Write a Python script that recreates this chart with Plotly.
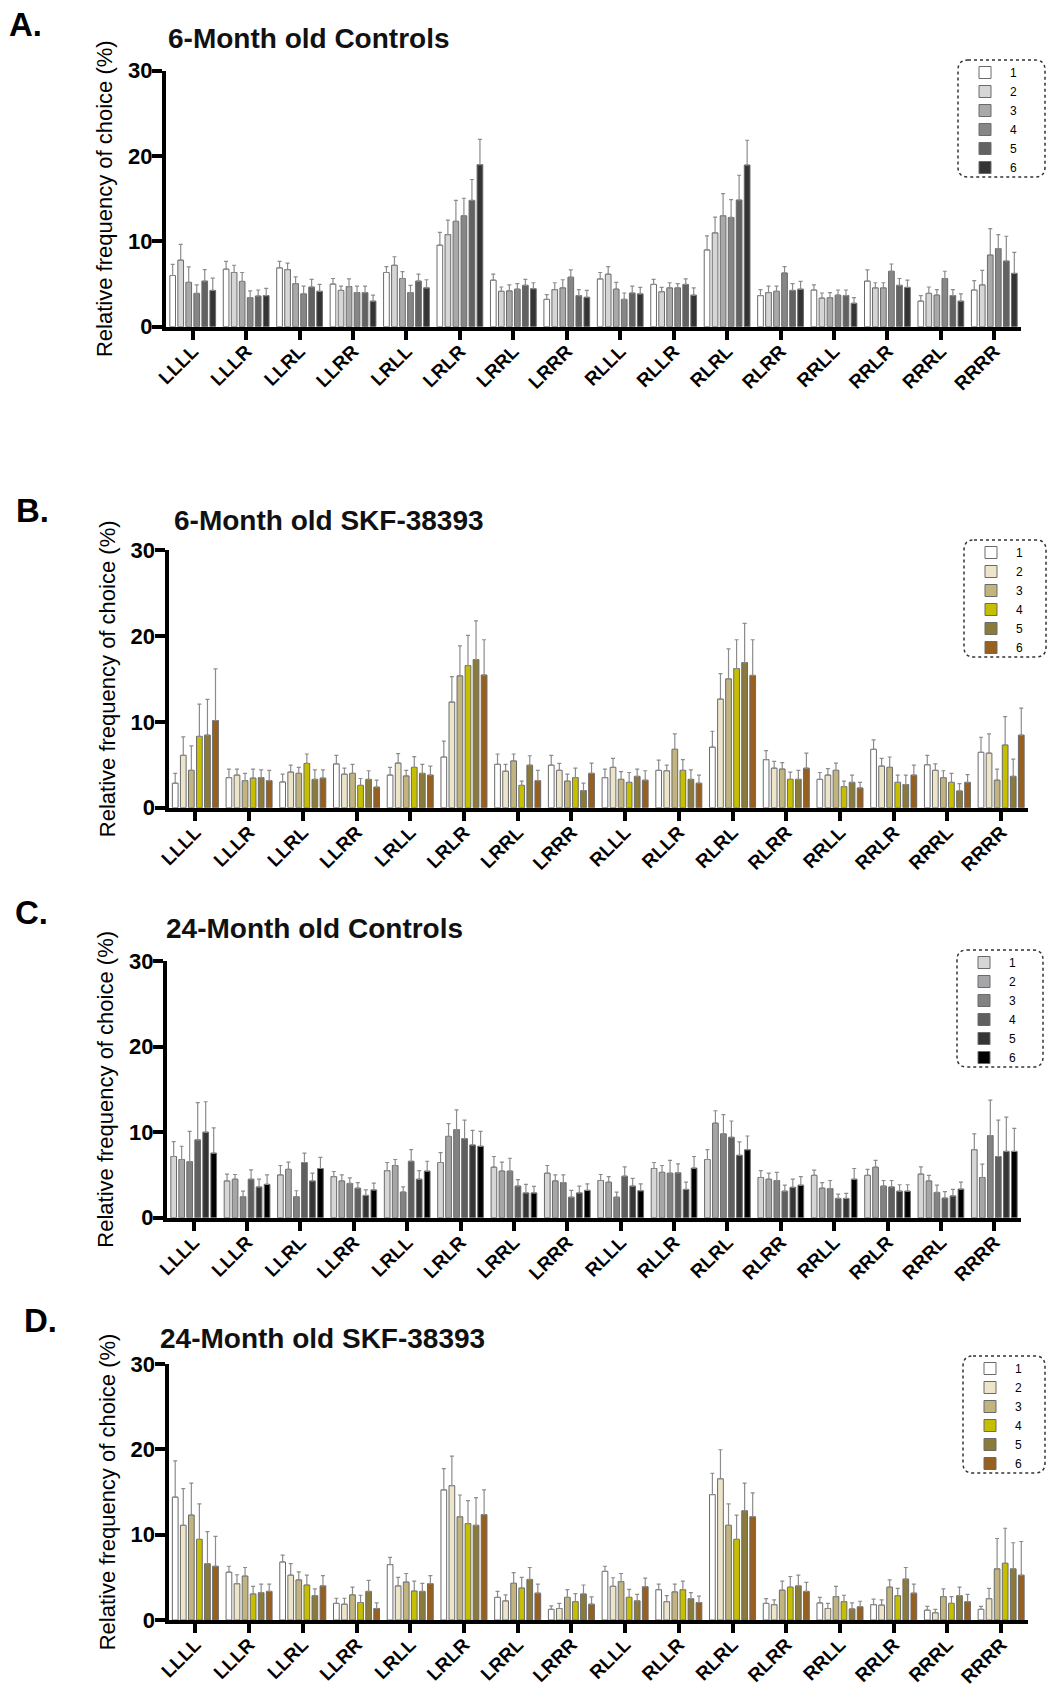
import plotly.graph_objects as go

W, H = 1047, 1693

CATS = ["LLLL", "LLLR", "LLRL", "LLRR", "LRLL", "LRLR", "LRRL", "LRRR",
        "RLLL", "RLLR", "RLRL", "RLRR", "RRLL", "RRLR", "RRRL", "RRRR"]
SERIES = ["1", "2", "3", "4", "5", "6"]
Y_TICKS = [0, 10, 20, 30]

TITLES = ["6-Month old Controls", "6-Month old SKF-38393",
          "24-Month old Controls", "24-Month old SKF-38393"]
LETTERS = ["A.", "B.", "C.", "D."]

# ---- Panel A: 6-Month old Controls (mean, SEM) ----
A_MEAN = [
    [6.0, 6.75, 6.9, 5.0, 6.35, 9.55, 5.45, 3.2, 5.6, 4.95, 9.0, 3.65, 4.3, 5.35, 3.0, 4.3],
    [7.8, 6.35, 6.7, 4.25, 7.2, 10.8, 4.15, 4.35, 6.15, 4.1, 11.0, 4.0, 3.35, 4.55, 3.9, 4.9],
    [5.2, 5.3, 5.05, 4.7, 5.65, 12.35, 4.2, 4.55, 4.4, 4.55, 13.0, 4.15, 3.4, 4.55, 3.7, 8.4],
    [3.9, 3.4, 3.85, 4.0, 4.0, 13.0, 4.4, 5.8, 3.2, 4.55, 12.8, 6.3, 3.7, 6.5, 5.65, 9.15],
    [5.35, 3.6, 4.65, 4.0, 5.35, 14.8, 4.85, 3.65, 3.95, 4.95, 14.85, 4.25, 3.65, 4.85, 3.65, 7.7],
    [4.25, 3.65, 4.15, 3.0, 4.55, 19.0, 4.45, 3.45, 3.85, 3.7, 18.95, 4.4, 2.75, 4.6, 3.0, 6.25],
]
A_ERR = [
    [1.3, 0.9, 0.75, 0.65, 0.7, 1.5, 0.7, 0.55, 0.75, 0.6, 1.65, 0.7, 0.6, 1.3, 0.65, 1.1],
    [1.85, 0.85, 0.75, 0.5, 1.0, 1.7, 0.5, 0.8, 0.9, 0.5, 1.85, 0.75, 0.6, 0.6, 0.75, 1.7],
    [1.8, 1.05, 0.8, 0.9, 0.8, 2.45, 0.7, 0.95, 0.8, 0.6, 2.6, 0.6, 0.6, 0.6, 0.65, 3.1],
    [1.0, 0.8, 0.9, 0.75, 0.85, 2.05, 0.65, 0.85, 0.75, 0.5, 2.1, 0.75, 0.6, 0.85, 0.85, 1.65],
    [1.35, 0.7, 0.9, 0.75, 0.8, 2.45, 0.7, 0.7, 0.8, 0.65, 2.9, 0.8, 0.65, 0.8, 0.7, 2.9],
    [1.45, 0.85, 0.8, 0.7, 0.95, 2.95, 0.7, 0.8, 0.75, 0.85, 2.9, 0.9, 0.65, 0.85, 0.85, 2.45],
]

# ---- Panel B: 6-Month old SKF-38393 ----
B_MEAN = [
    [2.85, 3.5, 3.0, 5.1, 3.8, 5.9, 5.05, 4.95, 3.5, 4.35, 7.05, 5.6, 3.3, 6.8, 5.0, 6.45],
    [6.1, 3.8, 4.15, 3.9, 5.2, 12.3, 4.25, 4.35, 4.7, 4.3, 12.65, 4.6, 3.8, 4.85, 4.35, 6.35],
    [4.35, 3.15, 4.0, 4.0, 3.7, 15.35, 5.45, 3.1, 3.3, 6.8, 15.0, 4.5, 4.35, 4.7, 3.5, 3.2],
    [8.3, 3.45, 5.15, 2.6, 4.7, 16.55, 2.6, 3.5, 2.95, 4.35, 16.2, 3.3, 2.45, 2.95, 2.95, 7.3],
    [8.45, 3.5, 3.3, 3.3, 4.0, 17.25, 4.95, 2.0, 3.65, 3.3, 16.9, 3.3, 2.95, 2.7, 1.95, 3.65],
    [10.15, 3.15, 3.45, 2.4, 3.8, 15.45, 3.15, 4.0, 3.2, 2.85, 15.4, 4.6, 2.3, 3.8, 2.95, 8.45],
]
B_ERR = [
    [1.15, 1.0, 0.9, 1.0, 0.9, 1.85, 1.2, 1.15, 1.0, 1.2, 1.85, 1.05, 0.8, 1.1, 1.1, 1.75],
    [2.15, 0.7, 0.8, 0.7, 1.1, 2.95, 0.8, 0.8, 1.05, 0.65, 2.95, 0.8, 0.75, 0.9, 0.75, 2.25],
    [2.85, 0.85, 0.7, 1.05, 0.65, 3.5, 0.8, 0.8, 0.9, 1.8, 3.5, 0.75, 0.85, 1.2, 0.8, 1.3],
    [3.75, 1.05, 1.1, 0.8, 1.25, 3.5, 0.5, 1.1, 1.15, 1.25, 3.35, 0.85, 0.65, 0.85, 1.05, 3.3],
    [4.15, 0.9, 1.1, 1.0, 1.05, 4.5, 1.1, 0.85, 0.85, 1.1, 4.55, 1.05, 0.85, 1.1, 0.85, 2.0],
    [6.0, 1.2, 0.95, 0.8, 1.05, 4.1, 1.2, 1.2, 1.1, 0.95, 4.15, 1.75, 0.65, 1.15, 0.9, 3.15],
]

# ---- Panel C: 24-Month old Controls ----
C_MEAN = [
    [7.15, 4.3, 5.0, 4.8, 5.5, 6.45, 5.9, 5.2, 4.35, 5.75, 6.8, 4.7, 4.95, 4.95, 5.1, 7.95],
    [6.8, 4.5, 5.65, 4.3, 6.1, 9.5, 5.45, 4.3, 4.15, 5.3, 11.05, 4.5, 3.45, 5.9, 4.3, 4.7],
    [6.55, 2.45, 2.45, 4.0, 3.0, 10.3, 5.45, 4.1, 2.4, 5.2, 9.8, 4.35, 3.4, 3.7, 2.95, 9.6],
    [9.1, 4.5, 6.45, 3.45, 6.6, 9.25, 3.7, 2.4, 4.85, 5.25, 9.4, 3.1, 2.25, 3.6, 2.3, 7.15],
    [10.0, 3.6, 4.3, 2.6, 4.5, 8.5, 2.9, 2.9, 3.7, 3.3, 7.3, 3.55, 2.25, 3.1, 2.55, 7.75],
    [7.55, 3.9, 5.75, 3.25, 5.45, 8.35, 2.9, 3.2, 3.15, 5.8, 7.95, 3.8, 4.5, 3.1, 3.35, 7.75],
]
C_ERR = [
    [1.75, 0.8, 1.1, 0.6, 0.95, 1.15, 1.25, 0.9, 0.7, 0.7, 1.15, 0.8, 0.6, 0.7, 0.85, 1.85],
    [1.55, 0.55, 0.85, 0.7, 0.7, 1.5, 1.05, 0.7, 0.65, 0.8, 1.45, 0.7, 0.65, 0.8, 0.65, 1.55],
    [3.55, 0.65, 0.7, 0.65, 0.6, 2.3, 1.5, 0.9, 0.6, 1.5, 2.25, 0.95, 0.95, 0.65, 0.85, 4.15],
    [4.35, 1.1, 1.1, 0.65, 1.35, 2.15, 0.75, 0.8, 1.1, 1.05, 1.9, 0.7, 0.5, 0.75, 0.75, 4.25],
    [3.55, 0.9, 0.9, 0.65, 1.0, 1.7, 1.0, 0.8, 0.9, 0.85, 1.55, 0.95, 0.6, 0.75, 0.75, 4.0],
    [2.95, 1.1, 1.3, 0.8, 1.15, 1.75, 0.75, 0.75, 0.8, 1.35, 1.6, 1.0, 1.25, 0.75, 0.8, 2.7],
]

# ---- Panel D: 24-Month old SKF-38393 ----
D_MEAN = [
    [14.4, 5.6, 6.8, 1.95, 6.5, 15.25, 2.65, 1.25, 5.7, 3.55, 14.7, 1.95, 2.0, 1.8, 1.15, 1.25],
    [11.1, 4.25, 5.25, 1.85, 4.0, 15.75, 2.25, 1.35, 3.95, 2.15, 16.55, 1.8, 1.35, 1.75, 0.85, 2.5],
    [12.3, 5.15, 4.7, 2.95, 4.45, 12.1, 4.3, 2.65, 4.5, 3.3, 11.1, 3.5, 2.75, 3.85, 2.75, 6.0],
    [9.45, 3.05, 4.1, 2.05, 3.4, 11.3, 3.75, 2.15, 2.65, 3.55, 9.45, 3.85, 2.15, 2.85, 1.95, 6.65],
    [6.6, 3.2, 2.85, 3.35, 3.35, 11.1, 4.75, 3.05, 2.25, 2.5, 12.8, 4.0, 1.3, 4.8, 2.85, 6.0],
    [6.3, 3.35, 4.0, 1.35, 4.25, 12.35, 3.15, 1.85, 3.9, 2.05, 12.1, 3.35, 1.55, 3.15, 2.15, 5.25],
]
D_ERR = [
    [4.25, 0.7, 0.8, 0.6, 0.85, 2.5, 0.7, 0.4, 0.6, 0.65, 2.5, 0.55, 0.65, 0.65, 0.45, 0.35],
    [4.3, 1.05, 1.35, 0.7, 1.0, 3.45, 0.7, 0.6, 1.0, 0.7, 3.4, 0.55, 0.6, 0.6, 0.4, 1.2],
    [3.75, 1.0, 0.95, 0.9, 1.0, 2.55, 1.25, 0.9, 0.95, 0.9, 2.5, 1.05, 1.2, 0.85, 0.9, 3.55],
    [4.15, 0.9, 1.15, 0.85, 1.15, 2.7, 1.25, 0.95, 0.95, 1.0, 2.85, 1.25, 0.75, 0.85, 0.8, 4.1],
    [3.75, 1.0, 0.8, 1.3, 0.95, 3.25, 1.4, 1.05, 0.75, 0.7, 3.25, 1.25, 0.7, 1.35, 1.0, 3.05],
    [3.5, 0.85, 1.2, 0.65, 0.95, 2.9, 1.05, 0.85, 1.0, 0.75, 2.8, 1.05, 0.65, 1.05, 0.85, 3.95],
]

GRAY_A = ["#ffffff", "#d6d6d6", "#a9a9a9", "#868686", "#626262", "#343434"]
GRAY_C = ["#d6d6d6", "#a6a6a8", "#828282", "#5f5f5f", "#353535", "#000000"]
GOLD = ["#ffffff", "#ede5c9", "#c1b47f", "#c6bf00", "#8b7b3b", "#98601f"]

PANELS = [
    (A_MEAN, A_ERR, GRAY_A),
    (B_MEAN, B_ERR, GOLD),
    (C_MEAN, C_ERR, GRAY_C),
    (D_MEAN, D_ERR, GOLD),
]

# ---- layout geometry (pixels) ----
PLOT_X = [(166, 1021), (168.5, 1028), (167, 1021), (168.5, 1028)]
PLOT_Y = [(70.7, 326.7), (550, 807.7), (961, 1217.7), (1364, 1620)]
TITLE_POS = [(166, 39), (172, 521), (164, 929), (158, 1338)]
LETTER_POS = [(7, 25), (14, 510), (13, 912), (22, 1320)]
LEG_BOX = [(958, 60, 1045, 177), (964, 540, 1046, 657), (957, 950, 1043, 1067), (963, 1356, 1045, 1473)]


def fx(x):
    return x / W


def fy(y):
    return 1 - y / H


FONT = "Liberation Sans, Arial, Helvetica, sans-serif"

fig = go.Figure()
for p, (means, errs, colors) in enumerate(PANELS):
    suf = "" if p == 0 else str(p + 1)
    for s in range(6):
        fig.add_trace(go.Bar(
            x=CATS, y=means[s], name=SERIES[s],
            marker=dict(color=colors[s], line=dict(color="#6a6a6a", width=1)),
            error_y=dict(type="data", array=errs[s], arrayminus=[0] * len(CATS),
                         symmetric=False, color="#8c8c8c", thickness=1.2, width=2),
            xaxis="x" + suf, yaxis="y" + suf, legend="legend" + suf,
        ))

layout = dict(
    width=W, height=H, margin=dict(l=0, r=0, t=0, b=0),
    paper_bgcolor="white", plot_bgcolor="white",
    barmode="group", bargap=0.1, bargroupgap=0.29,
    font=dict(family=FONT, color="black"),
    showlegend=True,
)

annotations = []
shapes = []
for p in range(4):
    suf = "" if p == 0 else str(p + 1)
    x0, x1 = PLOT_X[p]
    y0, y1 = PLOT_Y[p]
    layout["xaxis" + suf] = dict(
        domain=[fx(x0), fx(x1)], anchor="y" + suf, type="category",
        range=[-0.5, len(CATS) - 0.5],
        showline=True, linewidth=4, linecolor="black", showgrid=False, zeroline=False,
        ticks="outside", ticklen=9, tickwidth=4, tickcolor="black",
        tickangle=-45, ticklabelstandoff=-7,
        tickfont=dict(size=19, family=FONT, weight="bold", color="black"),
        automargin=False, fixedrange=True,
    )
    layout["yaxis" + suf] = dict(
        domain=[fy(y1), fy(y0)], anchor="x" + suf, range=[0, 30],
        tickvals=Y_TICKS, ticktext=[str(v) for v in Y_TICKS],
        showline=True, linewidth=4, linecolor="black", showgrid=False, zeroline=False,
        ticks="outside", ticklen=10, tickwidth=4, tickcolor="black",
        ticklabelstandoff=-5,
        tickfont=dict(size=22, family=FONT, weight="bold", color="black"),
        title=dict(text="Relative frequency of choice (%)", standoff=10,
                   font=dict(size=22, family=FONT, color="black")),
        automargin=False, fixedrange=True,
    )
    bx0, by0, bx1, by1 = LEG_BOX[p]
    layout["legend" + suf] = dict(
        x=fx(bx0 + 2), y=fy(by0 - 2), xanchor="left", yanchor="top",
        bgcolor="rgba(0,0,0,0)", borderwidth=0,
        font=dict(size=12, family=FONT, color="black"),
        itemwidth=40, tracegroupgap=0,
    )
    # dashed rounded legend frame
    r = 10
    path = (f"M {fx(bx0 + r)},{fy(by0)} L {fx(bx1 - r)},{fy(by0)} "
            f"Q {fx(bx1)},{fy(by0)} {fx(bx1)},{fy(by0 + r)} "
            f"L {fx(bx1)},{fy(by1 - r)} Q {fx(bx1)},{fy(by1)} {fx(bx1 - r)},{fy(by1)} "
            f"L {fx(bx0 + r)},{fy(by1)} Q {fx(bx0)},{fy(by1)} {fx(bx0)},{fy(by1 - r)} "
            f"L {fx(bx0)},{fy(by0 + r)} Q {fx(bx0)},{fy(by0)} {fx(bx0 + r)},{fy(by0)} Z")
    shapes.append(dict(type="path", xref="paper", yref="paper", path=path,
                       line=dict(color="#333333", width=1.5, dash="dot")))
    tx, ty = TITLE_POS[p]
    annotations.append(dict(text=TITLES[p], x=fx(tx), y=fy(ty), xref="paper", yref="paper",
                            xanchor="left", yanchor="middle", showarrow=False,
                            font=dict(size=28, family=FONT, weight="bold", color="#111111")))
    lx, ly = LETTER_POS[p]
    annotations.append(dict(text=LETTERS[p], x=fx(lx), y=fy(ly), xref="paper", yref="paper",
                            xanchor="left", yanchor="middle", showarrow=False,
                            font=dict(size=33, family=FONT, weight="bold", color="black")))

layout["annotations"] = annotations
layout["shapes"] = shapes
fig.update_layout(**layout)

fig.write_html("out.html")
